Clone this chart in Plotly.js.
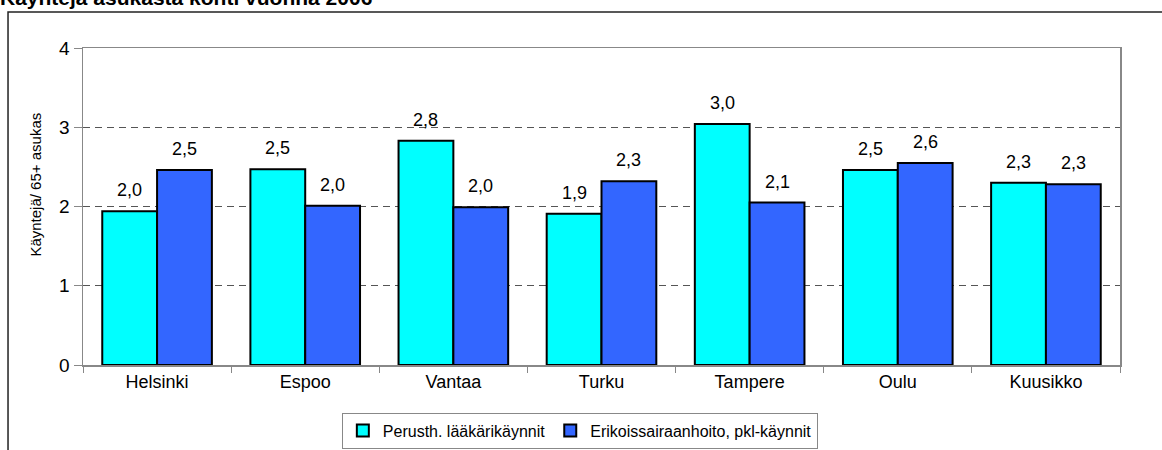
<!DOCTYPE html>
<html>
<head>
<meta charset="utf-8">
<script src="https://cdn.plot.ly/plotly-3.0.1.min.js"></script>
<style>
  body { margin: 0; background: #fff; }
  #chart { width: 1162px; height: 450px; }
</style>
</head>
<body>
<div id="chart"></div>
<script>
var cities = ['Helsinki', 'Espoo', 'Vantaa', 'Turku', 'Tampere', 'Oulu', 'Kuusikko'];
var perusth = [1.94, 2.47, 2.83, 1.91, 3.04, 2.46, 2.30];
var perusthLabels = ['2,0', '2,5', '2,8', '1,9', '3,0', '2,5', '2,3'];
var erikois = [2.46, 2.01, 1.99, 2.32, 2.05, 2.55, 2.28];
var erikoisLabels = ['2,5', '2,0', '2,0', '2,3', '2,1', '2,6', '2,3'];

var font = 'Arial, "Liberation Sans", sans-serif';

var data = [{
	type: 'bar',
	name: 'Perusth. lääkärikäynnit',
	x: cities,
	y: perusth,
	marker: {color: '#00FFFF', line: {color: '#000', width: 2}},
	hoverinfo: 'x+y'
}, {
	type: 'bar',
	name: 'Erikoissairaanhoito, pkl-käynnit',
	x: cities,
	y: erikois,
	marker: {color: '#3366FF', line: {color: '#000', width: 2}},
	hoverinfo: 'x+y'
}];

// value labels above the bars
var annotations = [];
cities.forEach(function (c, i) {
	annotations.push({
		x: c, y: perusth[i], text: perusthLabels[i],
		xshift: -27.4, yshift: 9, yanchor: 'bottom', showarrow: false,
		font: {family: font, size: 18, color: '#000'}
	});
	annotations.push({
		x: c, y: erikois[i], text: erikoisLabels[i],
		xshift: 27.4, yshift: 9, yanchor: 'bottom', showarrow: false,
		font: {family: font, size: 18, color: '#000'}
	});
});

annotations.push({
	// cut-off title at the very top
	text: '<b>Käyntejä asukasta kohti vuonna 2006</b>',
	xref: 'paper', yref: 'paper',
	x: -0.082, y: 1, xanchor: 'left', yanchor: 'bottom',
	yshift: 37,
	showarrow: false,
	font: {family: font, size: 21, color: '#000'}
});
annotations.push({
	text: 'Käyntejä/ 65+ asukas',
	xref: 'paper', yref: 'paper',
	x: -0.046, y: 0.57, xanchor: 'center', yanchor: 'middle',
	textangle: -90,
	showarrow: false,
	font: {family: font, size: 15, color: '#000'}
});

var layout = {
	width: 1162,
	height: 450,
	margin: {l: 83, r: 42, t: 48, b: 85},
	paper_bgcolor: '#fff',
	plot_bgcolor: '#fff',
	font: {family: font, size: 18, color: '#000'},
	barmode: 'group',
	bargap: 0.26,
	bargroupgap: 0,
	showlegend: true,
	legend: {
		orientation: 'h',
		xref: 'container',
		yref: 'container',
		x: 0.499,
		xanchor: 'center',
		y: 0.083,
		yanchor: 'top',
		bordercolor: '#888',
		borderwidth: 1,
		font: {family: font, size: 16},
		itemwidth: 30,
		tracegroupgap: 0
	},
	xaxis: {
		type: 'category',
		showline: true,
		linecolor: '#888',
		linewidth: 1.5,
		mirror: true,
		ticks: 'outside',
		tickson: 'boundaries',
		ticklen: 6,
		tickcolor: '#888',
		tickfont: {family: font, size: 18},
		showgrid: false,
		automargin: false,
		fixedrange: true
	},
	yaxis: {
		range: [0, 4],
		dtick: 1,
		showline: true,
		linecolor: '#888',
		linewidth: 1.5,
		mirror: true,
		ticks: 'outside',
		ticklen: 8,
		tickcolor: '#888',
		tickfont: {family: font, size: 19},
		showgrid: true,
		gridcolor: '#555',
		gridwidth: 1,
		griddash: '7px,5px',
		zeroline: false,
		automargin: false,
		fixedrange: true
	},
	annotations: annotations,
	shapes: [{
		// outer chart frame
		type: 'rect',
		xref: 'paper', yref: 'paper',
		x0: -0.0723, x1: 1.2,
		y0: -0.5, y1: 1.1136,
		line: {color: '#222', width: 1.5},
		fillcolor: 'rgba(0,0,0,0)',
		layer: 'below'
	}]
};

Plotly.newPlot('chart', data, layout, {displayModeBar: false, staticPlot: true});
</script>
</body>
</html>
